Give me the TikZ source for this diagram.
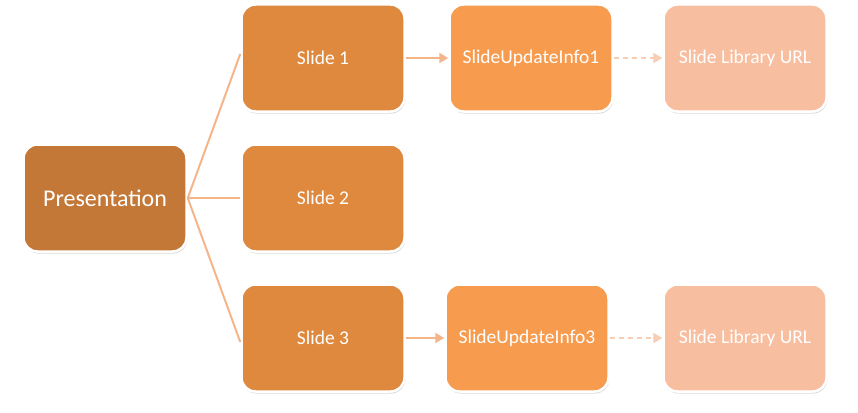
\documentclass[tikz,border=0pt]{standalone}
\usepackage{fontspec}
\setmainfont{Carlito}
\usetikzlibrary{shadows,arrows.meta}
\definecolor{cpres}{HTML}{C47838}
\definecolor{cslide}{HTML}{DF893F}
\definecolor{cinfo}{HTML}{F79B4F}
\definecolor{clib}{HTML}{F8BEA0}
\definecolor{cline}{HTML}{F6B48A}
\definecolor{cdash}{HTML}{F9CDB3}
\begin{document}
\begin{tikzpicture}[x=1pt,y=-1pt,
  box/.style={draw=white,line width=2.5pt,rounded corners=14pt,minimum width=163pt,minimum height=107pt,
    text=white,font=\fontsize{19.5}{23}\selectfont,inner sep=0pt,
    drop shadow={shadow xshift=0.8pt,shadow yshift=-2pt,opacity=0.25,fill=black!60}},
  conn/.style={draw=cline,line width=2pt},
  arr/.style={draw=cline,line width=2pt,-{Triangle[length=9pt,width=10pt]}},
  darr/.style={draw=cdash,line width=2pt,dash pattern=on 5pt off 4pt,-{Triangle[length=9pt,width=10pt]}}]
\useasboundingbox (0,0) rectangle (858,412);
\node[box,fill=cpres,font=\fontsize{24}{28}\selectfont] (pres) at (105,198) {Presentation};
\node[box,fill=cslide] (s1) at (323,58) {Slide 1};
\node[box,fill=cslide] (s2) at (323,198) {Slide 2};
\node[box,fill=cslide] (s3) at (323,338) {Slide 3};
\node[box,fill=cinfo] (u1) at (531,58) {SlideUpdateInfo1};
\node[box,fill=cinfo] (u3) at (527,338) {SlideUpdateInfo3};
\node[box,fill=clib] (l1) at (745,58) {Slide Library URL};
\node[box,fill=clib] (l3) at (745,338) {Slide Library URL};
\coordinate (pe) at (pres.east);
\draw[conn] (pe) -- ([yshift=4pt]s1.west);
\draw[conn] (pe) -- (s2.west);
\draw[conn] (pe) -- ([yshift=-4pt]s3.west);
\draw[arr] (s1.east) -- (u1.west);
\draw[arr] (s3.east) -- (u3.west);
\draw[darr] (u1.east) -- (l1.west);
\draw[darr] (u3.east) -- (l3.west);
\end{tikzpicture}
\end{document}
